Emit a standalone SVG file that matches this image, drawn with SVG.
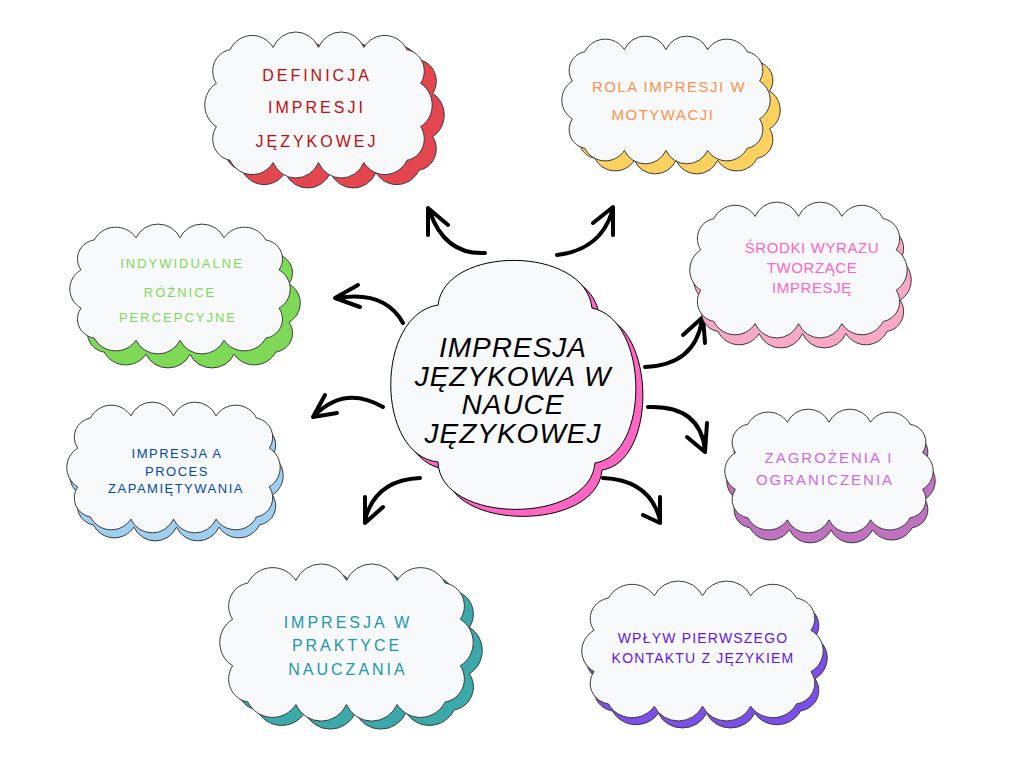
<svg xmlns="http://www.w3.org/2000/svg" xmlns:xlink="http://www.w3.org/1999/xlink" width="1024" height="768" viewBox="0 0 1024 768">
<style>
.cloud{fill:#f8f9fa;stroke:#3a3a3a;stroke-width:1}
.lbl{font-family:"Liberation Sans",Arial,sans-serif;text-anchor:middle}
.main{font-family:"Liberation Sans",Arial,sans-serif;font-style:italic;font-size:28px;letter-spacing:1px;text-anchor:middle;fill:#000}
.arr{fill:none;stroke:#000;stroke-width:4;stroke-linecap:round;stroke-linejoin:round}
</style>
<defs>
<path id="cl" vector-effect="non-scaling-stroke" d="M22 14 A22 22 0 0 1 60 12 A22 22 0 0 1 100 12 A22 22 0 0 1 140 12 A22 22 0 0 1 178 14 A18 18 0 0 1 190 42 A21 21 0 0 1 190 78 A18 18 0 0 1 178 106 A22 22 0 0 1 140 108 A22 22 0 0 1 100 108 A22 22 0 0 1 60 108 A22 22 0 0 1 22 106 A18 18 0 0 1 10 78 A21 21 0 0 1 10 42 A18 18 0 0 1 22 14 Z"/>
<path id="ctr" vector-effect="non-scaling-stroke" d="M438 305 C445 245 585 245 592 308 C650 320 650 455 595 463 C590 525 440 525 438 462 C375 455 375 315 438 305 Z"/>
</defs>
<rect width="1024" height="768" fill="#ffffff"/>

<g id="connectors">
<path class="arr" d="M485 253 Q445 255 430 212 M428 235 L428 208 L448 225"/>
<path class="arr" d="M557 255 Q600 250 612 212 M593 223 L613 207 L613 235"/>
<path class="arr" d="M403 323 Q385 290 337 298 M358 285 L335 298 L360 307"/>
<path class="arr" d="M645 367 Q695 365 702 320 M683 335 L703 317 L705 343"/>
<path class="arr" d="M383 407 Q345 385 315 415 M325 395 L313 417 L337 413"/>
<path class="arr" d="M648 407 Q700 405 705 450 M707 423 L705 452 L687 437"/>
<path class="arr" d="M420 478 Q375 480 365 520 M365 497 L365 523 L383 507"/>
<path class="arr" d="M603 478 Q650 480 660 520 M660 497 L660 523 L643 515"/>
</g>

<g id="center">
<use xlink:href="#ctr" transform="translate(7,7)" fill="#ff66c4" stroke="#000" stroke-width="1"/>
<use xlink:href="#ctr" class="cloud" style="stroke:#000"/>
<text class="main" x="513" y="357">IMPRESJA</text>
<text class="main" x="513" y="386">JĘZYKOWA W</text>
<text class="main" x="513" y="414">NAUCE</text>
<text class="main" x="513" y="443">JĘZYKOWEJ</text>
</g>

<g id="node-definicja">
<use xlink:href="#cl" transform="translate(217,43) scale(1.135,1.2)" fill="#e4464f" stroke="#3a3a3a" stroke-width="1"/>
<use xlink:href="#cl" class="cloud" transform="translate(205,33) scale(1.135,1.2)"/>
<g class="lbl" font-size="16" letter-spacing="3" fill="#c00d0d">
<text x="317" y="81">DEFINICJA</text>
<text x="317" y="113">IMPRESJI</text>
<text x="317" y="147">JĘZYKOWEJ</text>
</g>
</g>

<g id="node-rola">
<use xlink:href="#cl" transform="translate(572,47) scale(1.04,1.05)" fill="#fdd160" stroke="#3a3a3a" stroke-width="1"/>
<use xlink:href="#cl" class="cloud" transform="translate(562,37) scale(1.04,1.05)"/>
<g class="lbl" font-size="15" letter-spacing="1.5" fill="#ff914d">
<text x="669" y="92">ROLA IMPRESJI W</text>
<text x="663" y="120">MOTYWACJI</text>
</g>
</g>

<g id="node-srodki">
<use xlink:href="#cl" transform="translate(694,213) scale(1.085,1.117)" fill="#f9a9c6" stroke="#3a3a3a" stroke-width="1"/>
<use xlink:href="#cl" class="cloud" transform="translate(690,203) scale(1.085,1.117)"/>
<g class="lbl" font-size="15" letter-spacing="0.6" fill="#ff66c4">
<text x="812" y="253">ŚRODKI WYRAZU</text>
<text x="812" y="273">TWORZĄCE</text>
<text x="812" y="293">IMPRESJĘ</text>
</g>
</g>

<g id="node-indywidualne">
<use xlink:href="#cl" transform="translate(80,239) scale(1.1,1.067)" fill="#7ed957" stroke="#3a3a3a" stroke-width="1"/>
<use xlink:href="#cl" class="cloud" transform="translate(70,225) scale(1.1,1.067)"/>
<g class="lbl" font-size="13" letter-spacing="2" fill="#7ed957">
<text x="182" y="268">INDYWIDUALNE</text>
<text x="180" y="297">RÓŻNICE</text>
<text x="178" y="322">PERCEPCYJNE</text>
</g>
</g>

<g id="node-zapamietywanie">
<use xlink:href="#cl" transform="translate(70,411) scale(1.065,1.075)" fill="#9ecff1" stroke="#3a3a3a" stroke-width="1"/>
<use xlink:href="#cl" class="cloud" transform="translate(67,403) scale(1.065,1.075)"/>
<g class="lbl" font-size="13" letter-spacing="1.5" fill="#004aad">
<text x="177" y="458">IMPRESJA A</text>
<text x="177" y="476">PROCES</text>
<text x="176" y="493">ZAPAMIĘTYWANIA</text>
</g>
</g>

<g id="node-zagrozenia">
<use xlink:href="#cl" transform="translate(727,420) scale(1.04,1.017)" fill="#c071bf" stroke="#3a3a3a" stroke-width="1"/>
<use xlink:href="#cl" class="cloud" transform="translate(725,410) scale(1.04,1.017)"/>
<g class="lbl" font-size="15" letter-spacing="2" fill="#cb6ce6">
<text x="829" y="463">ZAGROŻENIA I</text>
<text x="825" y="485">OGRANICZENIA</text>
</g>
</g>

<g id="node-praktyka">
<use xlink:href="#cl" transform="translate(229,573) scale(1.265,1.292)" fill="#3ba9a9" stroke="#3a3a3a" stroke-width="1"/>
<use xlink:href="#cl" class="cloud" transform="translate(220,565) scale(1.265,1.292)"/>
<g class="lbl" font-size="16" letter-spacing="3" fill="#1b98ad">
<text x="348" y="628">IMPRESJA W</text>
<text x="347" y="651">PRAKTYCE</text>
<text x="348" y="675">NAUCZANIA</text>
</g>
</g>

<g id="node-wplyw">
<use xlink:href="#cl" transform="translate(586,589) scale(1.205,1.15)" fill="#7b4fe8" stroke="#3a3a3a" stroke-width="1"/>
<use xlink:href="#cl" class="cloud" transform="translate(582,582) scale(1.205,1.15)"/>
<g class="lbl" font-size="14" letter-spacing="1.2" fill="#5e17eb">
<text x="703" y="643">WPŁYW PIERWSZEGO</text>
<text x="703" y="663">KONTAKTU Z JĘZYKIEM</text>
</g>
</g>
</svg>
